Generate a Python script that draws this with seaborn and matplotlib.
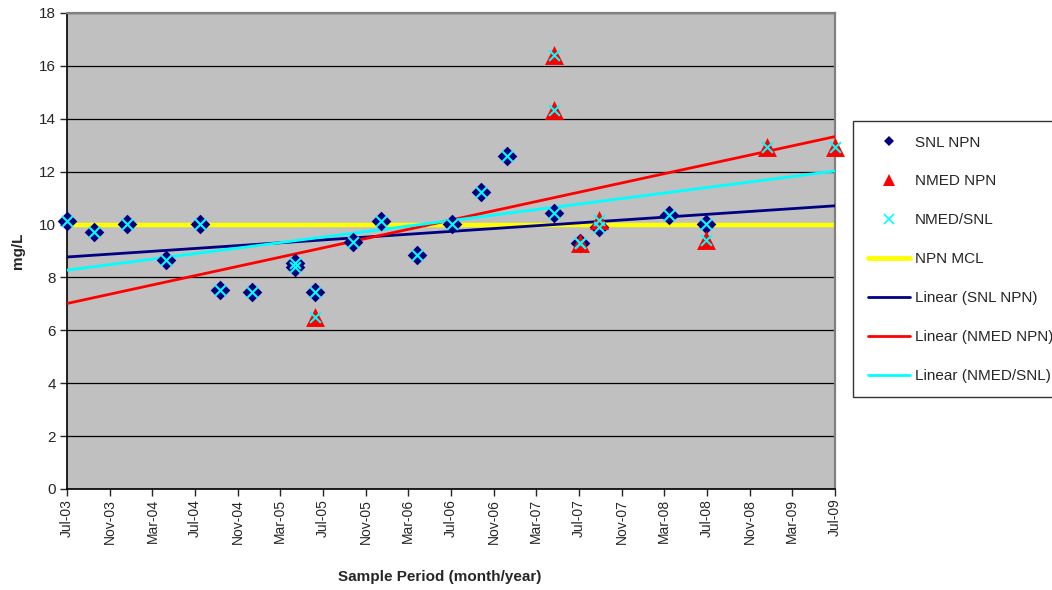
import numpy as np
import pandas as pd
import matplotlib
matplotlib.use("Agg")
import matplotlib.pyplot as plt
import matplotlib.dates as mdates
from matplotlib.lines import Line2D
import seaborn as sns

# SNL NPN samples (mg/L)
snl_dates = ["2003-07-01", "2003-09-16", "2003-12-19", "2004-04-09", "2004-07-15",
             "2004-09-10", "2004-12-11", "2005-04-13", "2005-04-13", "2005-06-09",
             "2005-09-25", "2005-12-13", "2006-03-26", "2006-07-04", "2006-09-25",
             "2006-12-09", "2007-04-21", "2007-07-03", "2007-08-27", "2008-03-14",
             "2008-06-29"]
snl_npn = [10.13, 9.71, 10.01, 8.66, 10.01, 7.53, 7.46, 8.55, 8.40, 7.46,
           9.35, 10.13, 8.85, 10.02, 11.25, 12.60, 10.44, 9.32, 9.92, 10.36,
           10.02]

# NMED NPN samples (mg/L)
nmed_dates = ["2005-06-09", "2007-04-21", "2007-04-21", "2007-07-03", "2007-08-27",
              "2008-06-29", "2008-12-20", "2009-07-01"]
nmed_npn = [6.52, 16.41, 14.33, 9.32, 10.17, 9.42, 12.95, 12.95]

# MCL limit
mcl_dates = ["2003-07-01", "2009-07-01"]
mcl_value = [10, 10]

x_start, x_end = "2003-07-01", "2009-07-01"

snl = pd.DataFrame({"date": pd.to_datetime(snl_dates), "npn": snl_npn})
nmed = pd.DataFrame({"date": pd.to_datetime(nmed_dates), "npn": nmed_npn})
both = pd.concat([snl, nmed], ignore_index=True)
for df in (snl, nmed, both):
    df["dnum"] = mdates.date2num(df["date"])

sns.set_style("white")
plt.rcParams["font.family"] = ["Liberation Sans", "DejaVu Sans"]

fig = plt.figure(figsize=(10.52, 5.9), dpi=100)
ax = fig.add_axes([67 / 1052, 1 - 489 / 590, (835 - 67) / 1052, (489 - 13) / 590])
ax.set_facecolor("#C0C0C0")

xmin = mdates.date2num(pd.Timestamp(x_start))
xmax = mdates.date2num(pd.Timestamp(x_end))
ax.set_xlim(xmin, xmax)
ax.set_ylim(0, 18)

# MCL line
sns.lineplot(x=mdates.date2num(pd.to_datetime(mcl_dates)), y=mcl_value, ax=ax,
             color="#FFFF00", lw=3.2, zorder=2)

# linear trends
navy, red, cyan = "#000080", "#FF0000", "#00FFFF"
for df, c in ((snl, navy), (nmed, red), (both, cyan)):
    sns.regplot(data=df, x="dnum", y="npn", ax=ax, scatter=False, ci=None,
                truncate=False, line_kws=dict(color=c, lw=2.0, zorder=3))

# markers
sns.scatterplot(data=snl, x="dnum", y="npn", ax=ax, marker="D", s=100,
                color=navy, linewidth=0, zorder=4, clip_on=False)
sns.scatterplot(data=nmed, x="dnum", y="npn", ax=ax, marker="^", s=185,
                color=red, linewidth=0, zorder=5, clip_on=False)
sns.scatterplot(data=both, x="dnum", y="npn", ax=ax, marker="x", s=60,
                color=cyan, linewidth=1.5, zorder=6, clip_on=False)

ax.set_xlim(xmin, xmax)
ax.set_ylim(0, 18)
ax.set_yticks(np.arange(0, 19, 2))
ax.xaxis.set_major_locator(mdates.MonthLocator(bymonth=[3, 7, 11]))
ax.xaxis.set_major_formatter(mdates.DateFormatter("%b-%y"))
ax.tick_params(axis="x", labelrotation=90, labelsize=10, length=5, width=1,
               direction="out", bottom=True, pad=2)
ax.tick_params(axis="y", labelsize=11, length=5, width=1, direction="out",
               left=True, pad=3)

ax.grid(axis="y", color="black", lw=0.9)
ax.grid(axis="x", visible=False)
ax.set_axisbelow(True)
for side in ("left", "bottom"):
    ax.spines[side].set_color("black")
    ax.spines[side].set_linewidth(1.2)
for side in ("top", "right"):
    ax.spines[side].set_color("#808080")
    ax.spines[side].set_linewidth(1.6)
    ax.spines[side].set_visible(True)

ax.set_xlabel("Sample Period (month/year)", fontsize=11, fontweight="bold")
ax.xaxis.set_label_coords(0.485, -0.17)
ax.set_ylabel("mg/L", fontsize=11, fontweight="bold", labelpad=10)

handles = [
    Line2D([], [], ls="none", marker="D", ms=4.8, color=navy, mew=0),
    Line2D([], [], ls="none", marker="^", ms=8, color=red, mew=0),
    Line2D([], [], ls="none", marker="x", ms=7, color=cyan, mew=1.2),
    Line2D([], [], color="#FFFF00", lw=3.5),
    Line2D([], [], color=navy, lw=2),
    Line2D([], [], color=red, lw=2),
    Line2D([], [], color=cyan, lw=2),
]
labels = ["SNL NPN", "NMED NPN", "NMED/SNL", "NPN MCL",
          "Linear (SNL NPN)", "Linear (NMED NPN)", "Linear (NMED/SNL)"]
leg = fig.legend(handles, labels, loc="upper left",
                 bbox_to_anchor=(853 / 1052, 1 - 121 / 590), fontsize=11,
                 frameon=True, fancybox=False, edgecolor="black",
                 handlelength=2.8, handletextpad=0.3, labelspacing=1.63,
                 borderpad=0.95, borderaxespad=0)
leg.get_frame().set_linewidth(1.0)

fig.savefig("out.png", dpi=100, facecolor="white")
